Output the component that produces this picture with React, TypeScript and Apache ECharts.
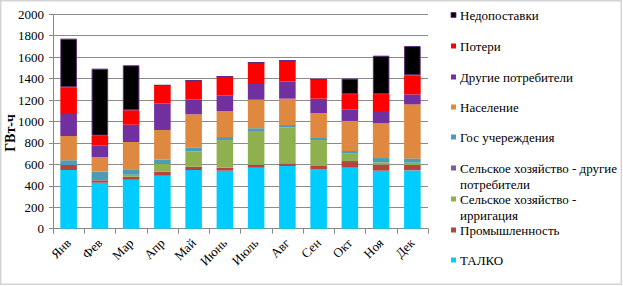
import React, { useEffect, useRef } from "react";
import * as echarts from "echarts";

const months = ["Янв", "Фев", "Мар", "Апр", "Май", "Июнь", "Июль", "Авг", "Сен", "Окт", "Ноя", "Дек"];

const talko = [547, 429, 457, 494, 547, 541, 569, 585, 557, 569, 541, 544];
const industry = [47, 22, 28, 38, 31, 28, 28, 25, 34, 62, 56, 50];
const irrigation = [0, 0, 19, 71, 144, 258, 314, 335, 236, 69, 22, 22];
const agriOther = [0, 0, 0, 0, 0, 0, 0, 0, 0, 0, 0, 0];
const govt = [44, 81, 50, 41, 37, 28, 25, 22, 19, 25, 40, 40];
const population = [227, 137, 255, 277, 308, 243, 268, 246, 233, 280, 324, 504];
const otherConsumers = [205, 105, 161, 248, 140, 143, 146, 159, 134, 105, 115, 93];
const losses = [249, 94, 134, 168, 174, 177, 199, 195, 180, 146, 158, 178];
const shortfall = [454, 625, 420, 0, 0, 0, 0, 0, 0, 144, 358, 273];

const seriesNames = [
  "ТАЛКО",
  "Промышленность",
  "Сельское хозяйство - ирригация",
  "Сельское хозяйство - другие потребители",
  "Гос учереждения",
  "Население",
  "Другие потребители",
  "Потери",
  "Недопоставки",
];
const legendLabels = [
  "ТАЛКО",
  "Промышленность",
  "Сельское хозяйство -\nирригация",
  "Сельское хозяйство - другие\nпотребители",
  "Гос учереждения",
  "Население",
  "Другие потребители",
  "Потери",
  "Недопоставки",
];
const seriesData = [talko, industry, irrigation, agriOther, govt, population, otherConsumers, losses, shortfall];
const colors = ["#00CCFF", "#B5443F", "#8FB04E", "#7A5E9A", "#4A9DB5", "#DF8840", "#7030A0", "#FF0000", "#000000"];

const yTicks = { min: 0, max: 2000, interval: 200 };

export default function App() {
  const ref = useRef<HTMLDivElement>(null);
  useEffect(() => {
    if (!ref.current) return;
    const chart = echarts.init(ref.current, null, { renderer: "svg" });
    const font = "Liberation Serif";
    const legendRows = [260, 230, 199, 168, 137, 107, 77, 46, 15];
    const legendGraphics: any[] = [];
    seriesNames.forEach((_, i) => {
      const cy = legendRows[i];
      legendGraphics.push({
        type: "rect",
        shape: { x: 451, y: cy - 2.5, width: 5, height: 5 },
        style: { fill: colors[i], stroke: i === 8 ? "#5B2C7A" : undefined, lineWidth: i === 8 ? 0.8 : 0 },
      });
      legendGraphics.push({
        type: "text",
        x: 460,
        y: cy - 8,
        style: {
          text: legendLabels[i],
          fontFamily: font,
          fontSize: 13,
          fill: "#000",
          align: "left",
          verticalAlign: "top",
          lineHeight: 16,
        },
      });
    });
    chart.setOption({
      animation: false,
      backgroundColor: "#fff",
      textStyle: { fontFamily: font },
      grid: { left: 53, right: 195, top: 14.3, bottom: 57.3, containLabel: false },
      xAxis: {
        type: "category",
        data: months,
        axisLine: { lineStyle: { color: "#888", width: 1 } },
        axisTick: { show: true, length: 5, lineStyle: { color: "#888" } },
        axisLabel: { rotate: 45, margin: 12, fontSize: 13, fontFamily: font, color: "#000" },
      },
      yAxis: {
        type: "value",
        min: yTicks.min,
        max: yTicks.max,
        interval: yTicks.interval,
        axisLine: { show: true, lineStyle: { color: "#888", width: 1 } },
        axisTick: { show: true, length: 4, lineStyle: { color: "#888" } },
        axisLabel: {
          margin: 9,
          fontSize: 13,
          fontFamily: font,
          color: "#000",
          formatter: (v: number) => String(v),
        },
        splitLine: { lineStyle: { color: "#8C8C8C", width: 1 } },
      },
      series: seriesNames.map((name, i) => ({
        name,
        type: "bar",
        stack: "total",
        data: seriesData[i],
        barWidth: "53%",
        itemStyle: {
          color: colors[i],
          borderColor: i === 8 ? "#5B2C7A" : undefined,
          borderWidth: i === 8 ? 1 : 0,
        },
      })),
      graphic: [
        {
          type: "rect",
          shape: { x: 0.75, y: 0.75, width: 620.5, height: 283.5 },
          style: { fill: "none", stroke: "#D4D4D4", lineWidth: 1.5 },
          silent: true,
        },
        {
          type: "text",
          x: 10,
          y: 133,
          rotation: Math.PI / 2,
          style: {
            text: "ГВт-ч",
            fontFamily: font,
            fontSize: 14,
            fontWeight: "bold",
            fill: "#000",
            align: "center",
            verticalAlign: "middle",
          },
        },
        ...legendGraphics,
      ],
    });
    return () => chart.dispose();
  }, []);
  return (
    <div
      ref={ref}
      style={{ position: "fixed", left: 0, top: 0, width: 623, height: 286 }}
    />
  );
}
